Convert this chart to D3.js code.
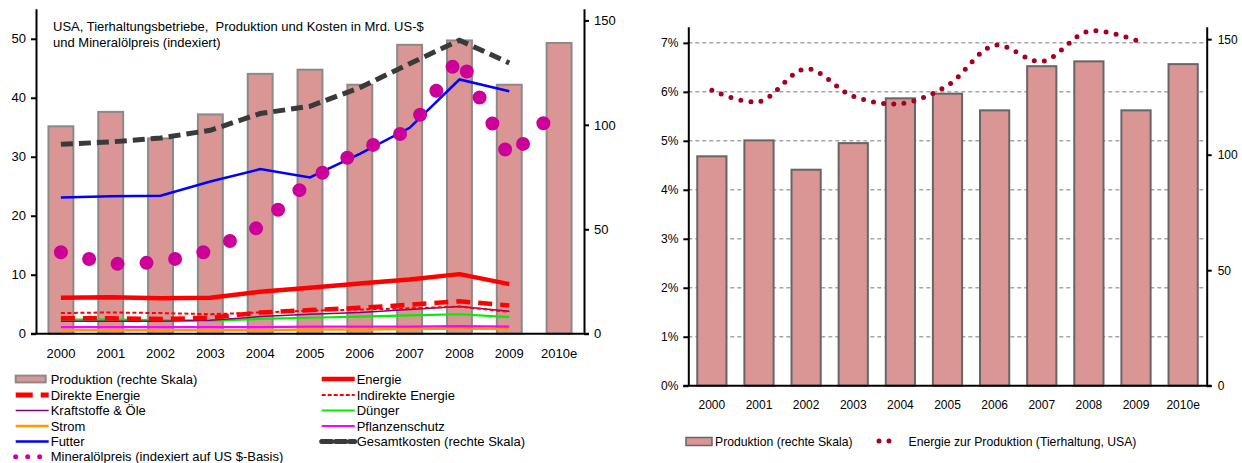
<!DOCTYPE html>
<html><head><meta charset="utf-8">
<script src="https://cdn.jsdelivr.net/npm/d3@7"></script>
<style>
html,body{margin:0;padding:0;background:#fff;}
svg{display:block;font-family:"Liberation Sans",Arial,sans-serif;}
</style></head>
<body>
<svg id="c" width="1242" height="463"></svg>
<script>
// ---------- DATA ----------
const years = ["2000","2001","2002","2003","2004","2005","2006","2007","2008","2009","2010e"];
const lineYears = years.slice(0, 10);
const produktion = [99.3, 106.2, 93.5, 105.0, 124.4, 126.4, 119.2, 138.3, 140.4, 119.2, 139.2];
const gesamtkosten = [90.7, 91.8, 93.7, 97.4, 105.4, 108.9, 117.8, 129.3, 140.5, 129.6];
const futter = [23.1, 23.3, 23.4, 25.8, 27.9, 26.5, 30.5, 34.9, 43.1, 41.1];
const energie = [6.1, 6.2, 6.0, 6.1, 7.1, 7.8, 8.5, 9.2, 10.1, 8.4];
const direkteEnergie = [2.6, 2.6, 2.5, 2.7, 3.6, 4.0, 4.4, 4.9, 5.5, 4.8];
const indirekteEnergie = [3.5, 3.6, 3.5, 3.3, 3.6, 3.9, 4.1, 4.3, 4.6, 3.7];
const kraftstoffe = [2.1, 2.1, 2.1, 2.3, 2.9, 3.3, 3.6, 4.1, 4.6, 3.8];
const duenger = [2.4, 2.4, 2.3, 2.2, 2.5, 2.7, 2.9, 3.1, 3.3, 2.8];
const pflanzenschutz = [1.1, 1.1, 1.1, 1.1, 1.1, 1.2, 1.2, 1.2, 1.3, 1.2];
const strom = [0.6, 0.6, 0.6, 0.6, 0.6, 0.7, 0.7, 0.8, 0.9, 0.8];
const mineraloel = [13.8, 11.8, 12.1, 14.1, 18.2, 26.0, 31.1, 34.5, 47.0, 29.8, 38.4];
const energieAnteil = [6.03, 5.80, 6.47, 5.91, 5.76, 6.13, 6.95, 6.62, 7.24, 7.05]; // % of production
const leftTicksL = [0, 10, 20, 30, 40, 50];
const rightTicksL = [0, 50, 100, 150];
const leftTicksR = [0, 1, 2, 3, 4, 5, 6, 7];
const rightTicksR = [0, 50, 100, 150];
const titleLines = ["USA, Tierhaltungsbetriebe,  Produktion und Kosten in Mrd. US-$", "und Mineralölpreis (indexiert)"];

const svg = d3.select("#c");
const BAR_FILL = "#d99694";

// ---------- LEFT CHART ----------
const L = {x0: 36, x1: 584, y0: 333.7, yTop: 8.7};
const xL = d3.scaleBand().domain(years).range([L.x0, L.x1]).paddingInner(0.5).paddingOuter(0.25);
const yL = d3.scaleLinear().domain([0, 55.1]).range([L.y0, L.yTop]);
const yLR = d3.scaleLinear().domain([0, 155.6]).range([L.y0, L.yTop]);
const cxL = d => xL(d) + xL.bandwidth() / 2;

const gL = svg.append("g");
gL.selectAll("rect.bar").data(years).join("rect")
  .attr("class", "bar")
  .attr("x", d => xL(d)).attr("width", xL.bandwidth())
  .attr("y", (d, i) => yLR(produktion[i]))
  .attr("height", (d, i) => L.y0 - yLR(produktion[i]))
  .attr("fill", BAR_FILL).attr("stroke", "#8a8a8a").attr("stroke-width", 2);

function drawLine(g, xs, xf, yscale, vals, style, curve) {
  const ln = d3.line().x((d, i) => xf(xs[i])).y(d => yscale(d)).curve(curve || d3.curveLinear);
  const p = g.append("path").attr("d", ln(vals)).attr("fill", "none");
  Object.entries(style).forEach(([k, v]) => p.attr(k, v));
  return p;
}

drawLine(gL, lineYears, cxL, yL, strom, {stroke: "#ff9900", "stroke-width": 2.5});
drawLine(gL, lineYears, cxL, yL, pflanzenschutz, {stroke: "#ff00ff", "stroke-width": 2.2});
drawLine(gL, lineYears, cxL, yL, duenger, {stroke: "#00ee00", "stroke-width": 2.2});
drawLine(gL, lineYears, cxL, yL, kraftstoffe, {stroke: "#800080", "stroke-width": 1.5});
drawLine(gL, lineYears, cxL, yL, indirekteEnergie, {stroke: "#ff0000", "stroke-width": 2, "stroke-dasharray": "4,2.5"});
drawLine(gL, lineYears, cxL, yL, direkteEnergie, {stroke: "#ff0000", "stroke-width": 4.5, "stroke-dasharray": "14,8"});
drawLine(gL, lineYears, cxL, yL, energie, {stroke: "#ff0000", "stroke-width": 4.5, "stroke-linejoin": "round"});
drawLine(gL, lineYears, cxL, yL, futter, {stroke: "#0000ff", "stroke-width": 2.5});
drawLine(gL, lineYears, cxL, yLR, gesamtkosten, {stroke: "#3a3a3a", "stroke-width": 5, "stroke-dasharray": "12,6"});
drawLine(gL, years, cxL, yL, mineraloel, {stroke: "#cc0099", "stroke-width": 14, "stroke-dasharray": "0,29", "stroke-linecap": "round"});

// axes left chart
function styleAxis(g, size) {
  g.selectAll("text").attr("fill", "#000").style("font-size", size + "px").style("font-family", "Liberation Sans, Arial, sans-serif");
  g.selectAll("line").attr("stroke", "#000").attr("stroke-width", 2);
  g.select(".domain").attr("stroke", "#000").attr("stroke-width", 2);
}
const axL = gL.append("g").attr("transform", `translate(${L.x0},0)`)
  .call(d3.axisLeft(yL).tickValues(leftTicksL).tickSize(5).tickSizeOuter(0).tickPadding(5));
styleAxis(axL, 13);
const axLR = gL.append("g").attr("transform", `translate(${L.x1},0)`)
  .call(d3.axisRight(yLR).tickValues(rightTicksL).tickSize(5).tickSizeOuter(0).tickPadding(5));
styleAxis(axLR, 13);
const axLX = gL.append("g").attr("transform", `translate(0,${L.y0})`)
  .call(d3.axisBottom(xL).tickSize(0).tickSizeOuter(0).tickPadding(15));
styleAxis(axLX, 13);
axLX.select(".domain").attr("d", `M${L.x0 - 5},0H${L.x1 + 5}`);

// title
titleLines.forEach((t, i) => {
  gL.append("text").attr("x", 53).attr("y", 30.5 + i * 16).attr("font-size", 13).attr("fill", "#000")
    .style("white-space", "pre").text(t);
});

// legend left
const legItems = [
  {t: "Produktion (rechte Skala)", type: "bar", col: 0, row: 0},
  {t: "Energie", type: "line", col: 1, row: 0, s: {stroke: "#ff0000", "stroke-width": 4.5}},
  {t: "Direkte Energie", type: "line", col: 0, row: 1, s: {stroke: "#ff0000", "stroke-width": 5, "stroke-dasharray": "17,8"}},
  {t: "Indirekte Energie", type: "line", col: 1, row: 1, s: {stroke: "#ff0000", "stroke-width": 2, "stroke-dasharray": "4,2"}},
  {t: "Kraftstoffe & Öle", type: "line", col: 0, row: 2, s: {stroke: "#800080", "stroke-width": 1.5}},
  {t: "Dünger", type: "line", col: 1, row: 2, s: {stroke: "#00ee00", "stroke-width": 2}},
  {t: "Strom", type: "line", col: 0, row: 3, s: {stroke: "#ff9900", "stroke-width": 2.5}},
  {t: "Pflanzenschutz", type: "line", col: 1, row: 3, s: {stroke: "#ff00ff", "stroke-width": 2}},
  {t: "Futter", type: "line", col: 0, row: 4, s: {stroke: "#0000ff", "stroke-width": 2.5}},
  {t: "Gesamtkosten (rechte Skala)", type: "line", col: 1, row: 4, s: {stroke: "#3a3a3a", "stroke-width": 5, "stroke-dasharray": "10,4", "stroke-linecap": "round"}},
  {t: "Mineralölpreis (indexiert auf US $-Basis)", type: "line", col: 0, row: 5, s: {stroke: "#cc0099", "stroke-width": 5, "stroke-dasharray": "0,12", "stroke-linecap": "round"}}
];
const legX = [15.7, 321.7], legW = 30, legYs = [379, 395, 410.5, 426, 441.5, 456.7];
legItems.forEach(it => {
  const x = legX[it.col], y = legYs[it.row];
  if (it.type === "bar") {
    gL.append("rect").attr("x", x).attr("y", y - 3.4).attr("width", legW).attr("height", 6.8)
      .attr("fill", BAR_FILL).attr("stroke", "#8a8a8a").attr("stroke-width", 2);
  } else {
    const x0 = it.row === 5 ? x : x;
    const x1 = it.row === 5 ? x + 25 : x + legW + 3;
    const p = gL.append("line").attr("x1", x0).attr("x2", x1).attr("y1", y).attr("y2", y);
    Object.entries(it.s).forEach(([k, v]) => p.attr(k, v));
  }
  gL.append("text").attr("x", x + (it.col === 0 ? 35 : 35)).attr("y", y + 4.7).attr("font-size", 13).attr("fill", "#000").text(it.t);
});

// ---------- RIGHT CHART ----------
const R = {x0: 688.3, x1: 1206.7, y0: 385.7, yTop: 26.7};
const xR = d3.scaleBand().domain(years).range([R.x0, R.x1]).paddingInner(0.38).paddingOuter(0.19);
const yR = d3.scaleLinear().domain([0, 7.33]).range([R.y0, R.yTop]);
const yRR = d3.scaleLinear().domain([0, 155.4]).range([R.y0, R.yTop]);
const cxR = d => xR(d) + xR.bandwidth() / 2;
const gR = svg.append("g");

// gridlines
gR.selectAll("line.grid").data(leftTicksR.filter(d => d > 0)).join("line")
  .attr("class", "grid")
  .attr("x1", R.x0).attr("x2", R.x1).attr("y1", d => yR(d)).attr("y2", d => yR(d))
  .attr("stroke", "#a6a6a6").attr("stroke-width", 1.5).attr("stroke-dasharray", "4,3");

gR.selectAll("rect.bar").data(years).join("rect")
  .attr("class", "bar")
  .attr("x", d => xR(d)).attr("width", xR.bandwidth())
  .attr("y", (d, i) => yRR(produktion[i]))
  .attr("height", (d, i) => R.y0 - yRR(produktion[i]))
  .attr("fill", BAR_FILL).attr("stroke", "#666").attr("stroke-width", 2);

drawLine(gR, lineYears, cxR, yR, energieAnteil,
  {stroke: "#a50021", "stroke-width": 5, "stroke-dasharray": "0,10.2", "stroke-linecap": "round"},
  d3.curveCatmullRom.alpha(0.5));

const axR = gR.append("g").attr("transform", `translate(${R.x0},0)`)
  .call(d3.axisLeft(yR).tickValues(leftTicksR).tickSize(5).tickSizeOuter(0).tickPadding(5).tickFormat(d => d + "%"));
styleAxis(axR, 12);
const axRR = gR.append("g").attr("transform", `translate(${R.x1},0)`)
  .call(d3.axisRight(yRR).tickValues(rightTicksR).tickSize(5).tickSizeOuter(0).tickPadding(6));
styleAxis(axRR, 12);
const axRX = gR.append("g").attr("transform", `translate(0,${R.y0})`)
  .call(d3.axisBottom(xR).tickSize(0).tickSizeOuter(0).tickPadding(15));
styleAxis(axRX, 12);
axRX.select(".domain").attr("d", `M${R.x0 - 5},0H${R.x1 + 5}`);

// legend right
gR.append("rect").attr("x", 686).attr("y", 437.5).attr("width", 26).attr("height", 8)
  .attr("fill", BAR_FILL).attr("stroke", "#666").attr("stroke-width", 1.5);
gR.append("text").attr("x", 715).attr("y", 446).attr("font-size", 12.2).attr("fill", "#000").text("Produktion (rechte Skala)");
gR.append("line").attr("x1", 879).attr("x2", 899).attr("y1", 441).attr("y2", 441)
  .attr("stroke", "#a50021").attr("stroke-width", 5).attr("stroke-dasharray", "0,10").attr("stroke-linecap", "round");
gR.append("text").attr("x", 908.5).attr("y", 446).attr("font-size", 12.2).attr("fill", "#000").text("Energie zur Produktion (Tierhaltung, USA)");
</script>
</body></html>
